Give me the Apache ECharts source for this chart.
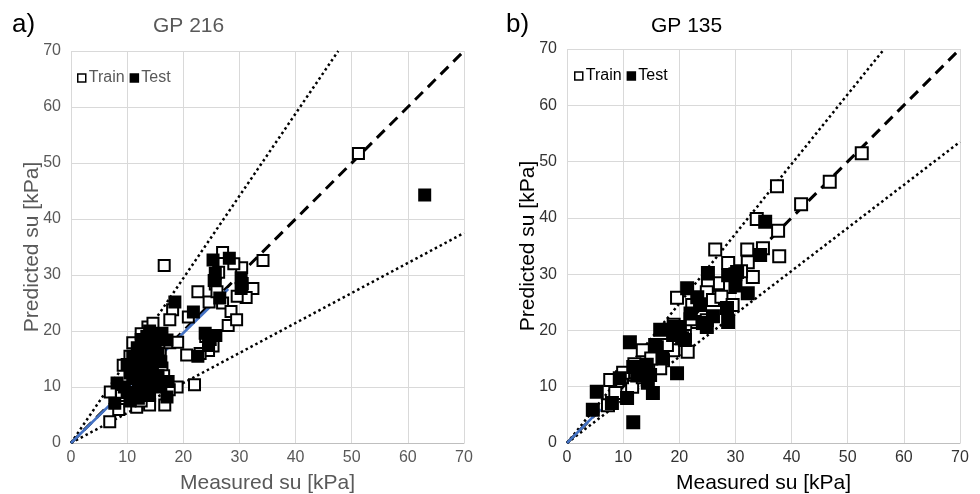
<!DOCTYPE html>
<html>
<head>
<meta charset="utf-8">
<script src="https://cdn.jsdelivr.net/npm/echarts@6/dist/echarts.min.js"></script>
<style>html,body{margin:0;padding:0;background:#fff;}#c{width:980px;height:494px;}</style>
</head>
<body>
<div id="c"></div>
<script>
// ---- data ----
const axisTicks = [0, 10, 20, 30, 40, 50, 60, 70];
const panelLabels = ['a)', 'b)'];
const panelTitles = ['GP 216', 'GP 135'];
const xTitle = 'Measured su [kPa]';
const yTitle = 'Predicted su [kPa]';
const legendNames = ['Train', 'Test'];

// Panel a (GP 216): [measured, predicted]
const trainA = [[51.2,51.7],[34.2,32.6],[16.6,31.7],[22,10.4],[6.9,3.8],[27,34],[30.4,31.3],[32.4,27.6],[31.2,26],[29.6,26.2],[27,25],[28,21],[22.6,27],[24.6,25.2],[25.7,28.4],[18.1,23.8],[20.9,22.5],[17.6,22],[20.6,15.7],[25.3,17.3],[18.9,10],[16.7,6.8],[14,6.8],[11.7,6.4],[7,9.1],[9.3,13.9],[11,17.9],[13.7,20.7],[14.6,21.4],[16.2,13.4],[15.9,16.6],[17.6,17.9],[12.5,19.5],[10.5,15.5],[9,8.5],[14.5,18.5],[8.5,6],[12.5,7.5],[16.5,12],[17.5,9.5],[28.5,23.5],[30.5,28.5],[26,27],[29.5,22],[24.5,16.5],[24,19],[23,16],[19,18],[26.3,30.5],[29,32]];
const testA = [[63,44.3],[25.3,32.7],[28.2,33],[25.7,30.3],[25.5,29],[30.3,29.5],[30.3,27.6],[26.5,25.9],[18.5,25.2],[21.8,23.4],[23.9,19.6],[24.8,18.5],[24.5,17.4],[25.8,19.2],[22.6,15.5],[17.3,11],[17.1,8.2],[7.8,7.1],[8.2,10.7],[11.8,17],[16.2,19.6],[17.1,18.4],[10,9],[11,11.5],[12,13],[13,14],[14,16],[15,18],[13,17.5],[12,9.5],[13,11],[14.5,13],[15.5,12],[12.5,16],[11.5,14],[9.5,10],[14,8.5],[15,10.5],[16,14.5],[13.5,19],[10.5,7.5],[12,8],[14,20],[10.5,12.5],[12,11],[13.5,12],[14.5,14.5],[11,15.5],[13,9],[15.5,16],[12.5,18.5],[10,14],[16,10],[11.5,8.5],[14,11.5]];
const oneToOneA = [[0,0],[70,70]];
const upperA = [[0,0],[47.6,70]];
const lowerA = [[0,0],[70,37.5]];
const fitA = [[0,0],[28,27.5]];

// Panel b (GP 135)
const trainB = [[52.5,51.5],[46.8,46.4],[41.7,42.4],[37.4,45.6],[33.8,39.8],[37.6,37.7],[34.9,34.6],[37.8,33.2],[26.4,34.4],[32.1,34.4],[32.2,32.1],[28.7,32],[33.1,29.5],[29,27.7],[26.9,28.4],[25.1,28],[7.7,11.2],[7.3,6.7],[8.6,8.9],[11.6,10],[9.8,11.7],[13.5,11.7],[13.5,16.5],[18.9,16.5],[17.1,14.7],[16.6,13.3],[19.6,25.8],[22.3,24.5],[24.9,26.8],[26,25.4],[23.2,21.5],[17.8,17.4],[24.9,21.8],[21.5,16.2],[16,17],[30,30],[27.5,26],[20,20],[22,22],[12,14],[10,12.5],[15,15],[19,21],[31,30.5],[29.5,24.5],[21,19]];
const testB = [[11.8,3.7],[4.6,5.9],[5.3,9.1],[8,7.1],[10.7,8],[9.4,11.5],[11.2,17.9],[15.3,8.9],[19.6,12.4],[14.4,10.7],[11.8,13.5],[15.7,17.4],[16.6,20.1],[18.9,19.2],[20.5,18.6],[14.2,13.9],[14.8,12.1],[19.2,20.6],[21.4,27.5],[23.2,25.9],[23.7,24.5],[24.2,21.3],[20.1,20.6],[24.9,20.6],[21,18.3],[35.3,39.3],[34.4,33.4],[30.3,30.4],[28.7,29.8],[25.1,30.2],[32.2,26.6],[28.5,24],[28.7,21.5],[12.5,12],[17,15],[22,23],[26,22.5],[30,28]];
const oneToOneB = [[0,0],[70,70]];
const upperB = [[0,0],[56.5,70]];
const lowerB = [[0,0],[70,53.5]];
const fitB = [[0,0],[6,6]];

// ---- chart ----
const FONT = '"Liberation Sans", Arial, sans-serif';
const chart = echarts.init(document.getElementById('c'), null, {renderer: 'canvas'});

function xAx(gi, tickColor, nameColor) {
  return {
    type: 'value', gridIndex: gi, min: axisTicks[0], max: axisTicks[axisTicks.length-1], interval: axisTicks[1]-axisTicks[0],
    name: xTitle, nameLocation: 'middle', nameGap: 30, nameMoveOverlap: false,
    nameTextStyle: {fontFamily: FONT, fontSize: 21, color: nameColor},
    axisLine: {show: true, lineStyle: {color: '#bfbfbf', width: 1}},
    axisTick: {show: false},
    axisLabel: {fontFamily: FONT, fontSize: 16, color: tickColor, margin: 7},
    splitLine: {show: true, lineStyle: {color: '#d9d9d9', width: 1}}
  };
}
function yAx(gi, tickColor, nameColor, gap) {
  return {
    type: 'value', gridIndex: gi, min: axisTicks[0], max: axisTicks[axisTicks.length-1], interval: axisTicks[1]-axisTicks[0],
    name: yTitle, nameLocation: 'middle', nameGap: gap, nameMoveOverlap: false,
    nameTextStyle: {fontFamily: FONT, fontSize: 21, color: nameColor},
    axisLine: {show: false},
    axisTick: {show: false},
    axisLabel: {fontFamily: FONT, fontSize: 16, color: tickColor, margin: 10},
    splitLine: {show: true, lineStyle: {color: '#d9d9d9', width: 1}}
  };
}
function lineS(gi, data, color, width, dash, z) {
  return {type: 'line', xAxisIndex: gi, yAxisIndex: gi, data: data, showSymbol: false, symbol: 'none',
    lineStyle: {color: color, width: width, type: dash, cap: 'butt'}, z: z, silent: true, animation: false};
}
function scat(gi, name, data, fill, size, z) {
  return {type: 'scatter', name: name, xAxisIndex: gi, yAxisIndex: gi, data: data, symbol: 'rect', symbolSize: size,
    itemStyle: {color: fill, borderColor: '#000', borderWidth: 2, opacity: 1}, z: z, animation: false};
}

const option = {
  backgroundColor: '#fff',
  animation: false,
  title: [
    {text: panelLabels[0], left: 7, top: 7, textStyle: {fontFamily: FONT, fontSize: 26, fontWeight: 'normal', color: '#000'}},
    {text: panelTitles[0], left: 148, top: 11, textStyle: {fontFamily: FONT, fontSize: 21, fontWeight: 'normal', color: '#595959'}},
    {text: panelLabels[1], left: 501, top: 7, textStyle: {fontFamily: FONT, fontSize: 26, fontWeight: 'normal', color: '#000'}},
    {text: panelTitles[1], left: 646, top: 11, textStyle: {fontFamily: FONT, fontSize: 21, fontWeight: 'normal', color: '#000'}}
  ],
  legend: [
    {left: 77, top: 70, itemWidth: 8, itemHeight: 8, itemGap: 5, padding: 0,
     textStyle: {fontFamily: FONT, fontSize: 16, color: '#595959', padding: [0,0,0,-2]},
     data: [
       {name: legendNames[0], icon: 'rect', itemStyle: {color: '#fff', borderColor: '#000', borderWidth: 1.5}},
       {name: legendNames[1], icon: 'rect', itemStyle: {color: '#000', borderColor: '#000', borderWidth: 1.5}}
     ]},
    {left: 574, top: 68, itemWidth: 8, itemHeight: 8, itemGap: 5, padding: 0,
     textStyle: {fontFamily: FONT, fontSize: 16, color: '#000', padding: [0,0,0,-2]},
     data: [
       {name: legendNames[0], icon: 'rect', itemStyle: {color: '#fff', borderColor: '#000', borderWidth: 1.5}},
       {name: legendNames[1], icon: 'rect', itemStyle: {color: '#000', borderColor: '#000', borderWidth: 1.5}}
     ]}
  ],
  grid: [
    {left: 71, top: 51, width: 393, height: 392, containLabel: false, outerBoundsMode: 'none'},
    {left: 567, top: 49, width: 393, height: 394, containLabel: false, outerBoundsMode: 'none'}
  ],
  xAxis: [xAx(0, '#595959', '#595959'), xAx(1, '#333', '#000')],
  yAxis: [yAx(0, '#595959', '#595959', 28), yAx(1, '#333', '#000', 28)],
  series: [
    lineS(0, oneToOneA, '#000', 3, [11, 7], 2),
    lineS(0, upperA, '#000', 2.5, [2.5, 3], 2),
    lineS(0, lowerA, '#000', 2.5, [2.5, 3], 2),
    lineS(0, fitA, '#4472C4', 2.5, 'solid', 2),
    scat(0, legendNames[0], trainA, '#fff', 11, 3),
    scat(0, legendNames[1], testA, '#000', 11, 4),
    lineS(1, oneToOneB, '#000', 3, [11, 7], 2),
    lineS(1, upperB, '#000', 2.5, [2.5, 3], 2),
    lineS(1, lowerB, '#000', 2.5, [2.5, 3], 2),
    lineS(1, fitB, '#4472C4', 2.5, 'solid', 2),
    scat(1, legendNames[0], trainB, '#fff', 12, 3),
    scat(1, legendNames[1], testB, '#000', 12, 4)
  ]
};
chart.setOption(option);
</script>
</body>
</html>
